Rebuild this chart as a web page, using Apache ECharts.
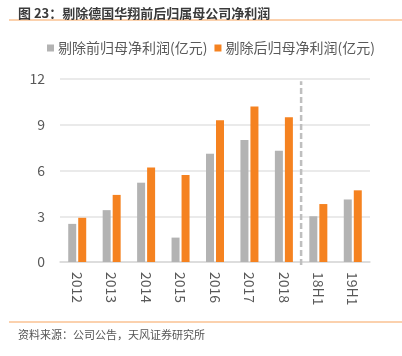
<!DOCTYPE html>
<html><head><meta charset="utf-8">
<script src="https://cdn.jsdelivr.net/npm/echarts@6/dist/echarts.min.js"></script>
<style>html,body{margin:0;padding:0;background:#fff}#c{width:402px;height:356px}</style>
</head><body><div id="c"></div>
<script>
const categories = ['2012','2013','2014','2015','2016','2017','2018','18H1','19H1'];
const beforeValues = [2.5, 3.4, 5.2, 1.6, 7.1, 8.0, 7.3, 3.0, 4.1];
const afterValues = [2.9, 4.4, 6.2, 5.7, 9.3, 10.2, 9.5, 3.8, 4.7];
const seriesNames = ['剔除前归母净利润(亿元)', '剔除后归母净利润(亿元)'];
const yTicks = [0, 3, 6, 9, 12];
const dividerAt = 7; // boundary between annual and half-year data (category count units)
const titleText = '图 23：剔除德国华翔前后归属母公司净利润';
const sourceText = '资料来源：公司公告，天风证券研究所';

const FONT = '"Noto Sans CJK SC", "Noto Sans", sans-serif';
const chart = echarts.init(document.getElementById('c'), null, {renderer: 'canvas'});
chart.setOption({
  animation: false,
  textStyle: {fontFamily: FONT},
  title: {
    text: titleText, left: 13, top: 2,
    textStyle: {fontSize: 13, fontWeight: 'bold', color: '#3a3a3a', fontFamily: FONT}
  },
  legend: {
    top: 36, left: 42,
    itemWidth: 7, itemHeight: 7, itemGap: 7,
    icon: 'rect',
    textStyle: {fontSize: 14, color: '#595959', padding: [0, 0, 0, -1]},
    data: seriesNames
  },
  graphic: [
    {type: 'line', shape: {x1: 9, y1: 20, x2: 402, y2: 20}, style: {stroke: '#f7a35c', lineWidth: 1}},
    {type: 'line', shape: {x1: 9, y1: 322, x2: 402, y2: 322}, style: {stroke: '#f7a35c', lineWidth: 1}},
    {type: 'text', left: 18, top: 329, style: {text: sourceText, fontSize: 11, fill: '#555', fontFamily: FONT}}
  ],
  grid: {left: 60, right: 32, top: 79, bottom: 94},
  xAxis: [{
    type: 'category', data: categories,
    axisLine: {lineStyle: {color: '#d9d9d9', width: 1.5}},
    axisTick: {show: false},
    axisLabel: {rotate: -90, fontSize: 14, color: '#595959', margin: 10, fontFamily: FONT}
  }, {
    type: 'value', min: 0, max: categories.length, show: false
  }],
  yAxis: {
    type: 'value', min: yTicks[0], max: yTicks[yTicks.length - 1], interval: 3,
    axisLine: {show: false}, axisTick: {show: false},
    axisLabel: {fontSize: 14, color: '#595959', margin: 15, fontFamily: FONT},
    splitLine: {lineStyle: {color: '#e3e3e3', width: 1.5}}
  },
  series: [
    {name: seriesNames[0], type: 'bar', data: beforeValues, barWidth: 8, barGap: '25%',
      itemStyle: {color: '#b3b3b3'}},
    {name: seriesNames[1], type: 'bar', data: afterValues, barWidth: 8,
      itemStyle: {color: '#f58220'}},
    {type: 'line', xAxisIndex: 1, data: [[dividerAt, -0.2], [dividerAt, 11.85]],
      symbol: 'none', clip: false, silent: true,
      lineStyle: {color: '#bfbfbf', width: 2.5, type: [6, 3]}}
  ]
});
</script></body></html>
